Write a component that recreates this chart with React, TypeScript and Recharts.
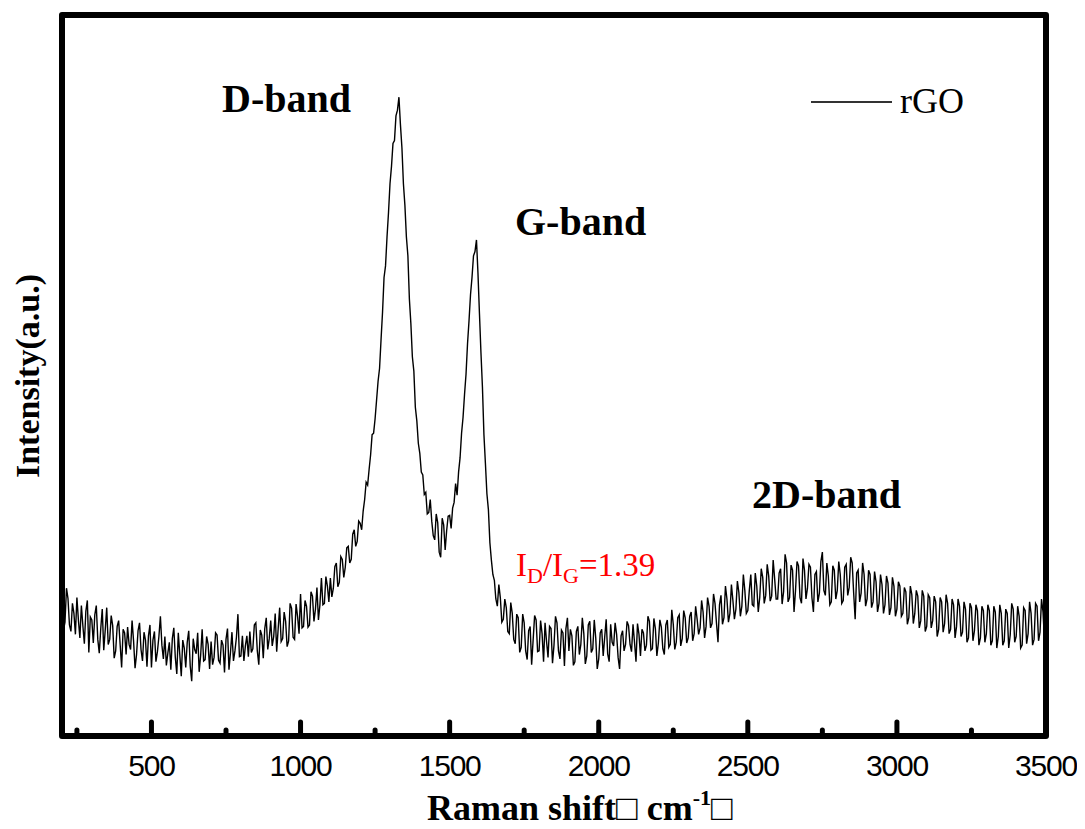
import React from 'react';
import { LineChart, Line, XAxis, YAxis, ReferenceArea } from 'recharts';

// Raman shift grid: starts at 200 cm-1, one reading every 5 cm-1
const SHIFT_START = 200;
const SHIFT_STEP = 5;

// rGO Raman intensity (a.u.), rows of 100 cm-1
const rgoIntensity: number[] = [
  /* 200 */ 1.86, 1.47, 1.58, 2.05, 1.91, 1.54, 1.45, 1.84, 1.70, 1.41, 1.92, 1.61, 1.36, 1.81, 1.53, 1.28, 1.73, 1.88, 1.16, 1.65,
  /* 300 */ 1.61, 1.29, 1.68, 1.81, 1.34, 1.15, 1.49, 1.76, 1.19, 1.47, 1.78, 1.27, 1.34, 1.67, 1.53, 1.08, 1.18, 1.52, 1.60, 1.27,
  /* 400 */ 0.95, 1.48, 1.43, 1.13, 1.51, 1.27, 1.20, 1.60, 1.32, 0.94, 1.13, 1.46, 1.57, 1.20, 1.04, 1.44, 1.33, 0.96, 1.39, 1.54,
  /* 500 */ 0.95, 1.33, 1.45, 1.03, 1.17, 1.38, 1.66, 1.26, 1.07, 1.38, 0.98, 1.15, 1.30, 0.92, 1.35, 1.50, 1.09, 0.86, 1.43, 1.13,
  /* 600 */ 0.83, 1.33, 1.22, 0.95, 1.30, 1.46, 0.97, 0.76, 1.35, 1.20, 1.14, 1.43, 0.89, 1.12, 1.48, 1.04, 1.06, 1.38, 1.27, 0.93,
  /* 700 */ 1.31, 0.99, 1.09, 1.43, 1.40, 1.05, 1.01, 1.33, 1.26, 0.88, 1.34, 1.49, 0.92, 1.16, 1.44, 1.04, 1.18, 1.37, 1.69, 1.10,
  /* 800 */ 1.11, 1.39, 1.04, 1.25, 1.39, 1.10, 1.45, 1.16, 1.21, 1.54, 1.57, 1.18, 0.99, 1.47, 1.40, 1.08, 1.49, 1.64, 1.20, 1.35,
  /* 900 */ 1.60, 1.25, 1.38, 1.70, 1.17, 1.49, 1.78, 1.31, 1.35, 1.72, 1.59, 1.24, 1.32, 1.84, 1.77, 1.37, 1.34, 1.83, 1.66, 1.42,
  /* 1000 */ 1.97, 1.50, 1.52, 1.88, 1.80, 1.51, 1.54, 2.00, 1.94, 1.59, 1.76, 2.06, 1.61, 1.82, 2.19, 1.82, 1.84, 2.21, 2.08, 1.86,
  /* 1100 */ 2.19, 1.93, 2.05, 2.35, 2.40, 2.07, 2.13, 2.49, 2.45, 2.20, 2.34, 2.61, 2.63, 2.40, 2.45, 2.80, 2.86, 2.63, 2.70, 2.98,
  /* 1200 */ 2.95, 2.86, 3.12, 3.28, 3.52, 3.48, 3.70, 3.90, 4.18, 4.20, 4.40, 4.66, 4.92, 5.10, 5.50, 5.88, 6.36, 6.52, 6.92, 7.26,
  /* 1300 */ 7.66, 7.90, 8.22, 8.26, 8.60, 8.68, 8.86, 8.48, 8.16, 7.66, 7.36, 6.92, 6.66, 6.06, 5.72, 5.26, 5.06, 4.56, 4.37, 4.06,
  /* 1400 */ 3.92, 3.66, 3.62, 3.35, 3.38, 3.08, 3.10, 3.28, 2.98, 2.78, 2.72, 3.08, 2.96, 2.55, 2.48, 3.02, 2.93, 2.58, 2.85, 3.05,
  /* 1500 */ 3.06, 2.88, 3.16, 3.24, 3.50, 3.34, 3.66, 3.86, 4.20, 4.42, 4.74, 5.02, 5.44, 5.76, 6.12, 6.36, 6.66, 6.72, 6.88, 6.42,
  /* 1600 */ 5.86, 5.32, 4.84, 4.18, 3.78, 3.36, 3.14, 2.68, 2.44, 2.24, 2.16, 1.90, 1.80, 2.10, 1.92, 1.58, 1.62, 1.90, 1.78, 1.45,
  /* 1700 */ 1.42, 1.85, 1.70, 1.34, 1.28, 1.69, 1.64, 1.16, 1.23, 1.69, 1.57, 1.18, 1.06, 1.46, 1.52, 0.99, 1.33, 1.67, 1.61, 1.17,
  /* 1800 */ 1.18, 1.60, 1.42, 1.03, 1.57, 1.31, 1.09, 1.52, 1.49, 1.01, 1.26, 1.66, 1.57, 1.18, 1.07, 1.47, 1.43, 0.97, 1.49, 1.64,
  /* 1900 */ 1.18, 1.48, 1.39, 0.98, 1.03, 1.45, 1.52, 1.13, 1.27, 1.64, 1.42, 1.00, 1.11, 1.54, 1.59, 1.16, 1.21, 1.61, 1.36, 0.93,
  /* 2000 */ 1.07, 1.43, 1.48, 1.11, 1.37, 1.62, 1.14, 1.03, 1.55, 1.30, 1.25, 1.57, 1.41, 1.09, 0.93, 1.39, 1.46, 1.18, 1.27, 1.59,
  /* 2100 */ 1.53, 1.27, 1.17, 1.55, 1.30, 1.03, 1.56, 1.41, 1.11, 1.48, 1.43, 1.18, 1.26, 1.66, 1.59, 1.19, 1.21, 1.63, 1.49, 1.11,
  /* 2200 */ 1.29, 1.61, 1.51, 1.21, 1.13, 1.54, 1.61, 1.23, 1.27, 1.75, 1.55, 1.20, 1.30, 1.64, 1.68, 1.25, 1.35, 1.74, 1.64, 1.29,
  /* 2300 */ 1.36, 1.66, 1.72, 1.32, 1.42, 1.80, 1.62, 1.41, 1.50, 1.88, 1.72, 1.36, 1.52, 1.92, 1.80, 1.50, 1.56, 1.97, 1.84, 1.56,
  /* 2400 */ 1.30, 1.82, 1.95, 1.55, 1.64, 2.08, 1.90, 1.58, 1.70, 2.10, 1.88, 1.62, 1.76, 2.15, 1.99, 1.66, 1.80, 2.24, 2.02, 1.70,
  /* 2500 */ 1.74, 2.02, 2.24, 1.82, 1.80, 2.26, 2.08, 1.72, 1.92, 2.32, 2.20, 1.84, 1.95, 2.38, 2.22, 1.87, 1.94, 2.44, 2.18, 1.90,
  /* 2600 */ 1.90, 2.26, 2.32, 1.83, 2.00, 2.52, 2.40, 1.86, 1.92, 2.37, 2.30, 1.72, 2.02, 2.42, 2.36, 1.92, 1.84, 2.46, 2.30, 1.90,
  /* 2700 */ 2.05, 2.38, 2.34, 1.92, 1.72, 2.24, 2.28, 1.86, 1.98, 2.42, 2.55, 2.02, 1.95, 2.40, 2.22, 1.82, 1.86, 2.36, 2.30, 1.90,
  /* 2800 */ 2.02, 2.42, 2.24, 1.84, 1.88, 2.34, 2.38, 1.95, 2.06, 2.48, 2.40, 1.98, 1.62, 2.26, 2.30, 1.86, 1.98, 2.40, 2.24, 1.80,
  /* 2900 */ 1.90, 2.30, 2.24, 1.78, 1.86, 2.28, 2.14, 1.72, 1.84, 2.24, 2.10, 1.70, 1.82, 2.22, 2.12, 1.68, 1.78, 2.20, 2.08, 1.66,
  /* 3000 */ 1.76, 2.14, 2.08, 1.66, 1.70, 2.06, 2.00, 1.55, 1.64, 2.08, 1.96, 1.56, 1.70, 2.02, 1.94, 1.50, 1.60, 2.02, 1.94, 1.45,
  /* 3100 */ 1.52, 1.96, 1.92, 1.50, 1.60, 1.94, 1.86, 1.38, 1.48, 1.92, 1.86, 1.44, 1.56, 1.96, 1.84, 1.42, 1.48, 1.90, 1.82, 1.36,
  /* 3200 */ 1.52, 1.90, 1.80, 1.38, 1.44, 1.86, 1.76, 1.30, 1.36, 1.84, 1.78, 1.32, 1.46, 1.82, 1.74, 1.26, 1.36, 1.80, 1.74, 1.30,
  /* 3300 */ 1.42, 1.82, 1.74, 1.26, 1.32, 1.80, 1.72, 1.22, 1.38, 1.82, 1.70, 1.26, 1.32, 1.76, 1.70, 1.22, 1.40, 1.84, 1.76, 1.30,
  /* 3400 */ 1.38, 1.80, 1.66, 1.22, 1.26, 1.78, 1.74, 1.28, 1.42, 1.86, 1.70, 1.26, 1.34, 1.84, 1.80, 1.32, 1.44, 1.90, 1.72, 1.32,
  /* 3500 */ 1.50,
];

const xTicks = [250, 500, 750, 1000, 1250, 1500, 1750, 2000, 2250, 2500, 2750, 3000, 3250, 3500];
const xLabelTicks = [500, 1000, 1500, 2000, 2500, 3000, 3500];
const yTicks = [1, 2, 3, 4, 5, 6, 7, 8, 9];
const X_DOMAIN: [number, number] = [200, 3500];
const Y_DOMAIN: [number, number] = [0, 10];

const data = rgoIntensity.map((v, i) => ({ shift: SHIFT_START + i * SHIFT_STEP, rGO: v }));

const SERIF = "'Times New Roman', 'Liberation Serif', 'DejaVu Serif', serif";
const SANS = "Arial, 'Liberation Sans', sans-serif";

const BottomTick = (props: any) => {
  const { x, y, payload } = props;
  const v = payload.value as number;
  const major = xLabelTicks.includes(v);
  return (
    <g>
      {v < 3500 && (
        <line x1={x} x2={x} y1={y} y2={y - (major ? 14 : 6)} stroke="#000" strokeWidth={5} strokeLinecap="round" />
      )}
      {major && (
        <text x={x} y={y + 40} textAnchor="middle" fontFamily={SANS} fontSize={30} fill="#000" letterSpacing={-1.2}>
          {v}
        </text>
      )}
    </g>
  );
};

const TopTick = (props: any) => {
  const { x, y, payload } = props;
  if (payload.value >= 3500) return <g />;
  return <line x1={x} x2={x} y1={y} y2={y + 3} stroke="#000" strokeWidth={1.5} />;
};

const LeftTick = (props: any) => {
  const { x, y } = props;
  return <line x1={x} x2={x + 4} y1={y} y2={y} stroke="#000" strokeWidth={2} />;
};

const RightTick = (props: any) => {
  const { x, y } = props;
  return <line x1={x} x2={x - 4} y1={y} y2={y} stroke="#000" strokeWidth={2} />;
};

export default function App() {
  return (
    <LineChart
      width={1077}
      height={821}
      data={data}
      margin={{ top: 7, right: 39, left: 54, bottom: 33 }}
    >
      <XAxis
        dataKey="shift"
        type="number"
        domain={X_DOMAIN}
        ticks={xTicks}
        interval={0}
        axisLine={false}
        tickLine={false}
        tickSize={0}
        tickMargin={0}
        height={60}
        tick={<BottomTick />}
        allowDataOverflow
      />
      <XAxis
        xAxisId="top"
        orientation="top"
        dataKey="shift"
        type="number"
        domain={X_DOMAIN}
        ticks={xTicks}
        interval={0}
        axisLine={false}
        tickLine={false}
        tickSize={0}
        tickMargin={0}
        height={0}
        tick={<TopTick />}
        allowDataOverflow
      />
      <YAxis
        type="number"
        domain={Y_DOMAIN}
        ticks={yTicks}
        interval={0}
        axisLine={false}
        tickLine={false}
        tickSize={0}
        tickMargin={0}
        width={0}
        tick={<LeftTick />}
        allowDataOverflow
      />
      <YAxis
        yAxisId="right"
        orientation="right"
        type="number"
        domain={Y_DOMAIN}
        ticks={yTicks}
        interval={0}
        axisLine={false}
        tickLine={false}
        tickSize={0}
        tickMargin={0}
        width={0}
        tick={<RightTick />}
        allowDataOverflow
      />
      <ReferenceArea
        x1={X_DOMAIN[0]}
        x2={X_DOMAIN[1]}
        y1={Y_DOMAIN[0]}
        y2={Y_DOMAIN[1]}
        fill="none"
        fillOpacity={0}
        stroke="#000"
        strokeWidth={6}
        strokeLinejoin="round"
      />
      <Line
        type="linear"
        dataKey="rGO"
        stroke="#000"
        strokeWidth={1.4}
        dot={false}
        activeDot={false}
        isAnimationActive={false}
      />
      <g>
        <text x={214} y={104} fontFamily={SERIF} fontWeight="bold" fontSize={40} fill="#000">D-band</text>
        <text x={507} y={227} fontFamily={SERIF} fontWeight="bold" fontSize={40} fill="#000">G-band</text>
        <text x={744} y={500} fontFamily={SERIF} fontWeight="bold" fontSize={40} fill="#000">2D-band</text>
        <text x={508} y={568} fontFamily={SERIF} fontSize={33} fill="#ff0000">
          I<tspan fontSize={22} dy={7}>D</tspan>
          <tspan dy={-7}>/I</tspan>
          <tspan fontSize={22} dy={7}>G</tspan>
          <tspan dy={-7}>=1.39</tspan>
        </text>
        <line x1={803} x2={884} y1={94} y2={94} stroke="#333" strokeWidth={2} />
        <text x={892} y={105} fontFamily={SERIF} fontSize={36} fill="#000">rGO</text>
        <text
          x={31}
          y={368}
          transform="rotate(-90 31 368)"
          textAnchor="middle"
          fontFamily={SERIF}
          fontWeight="bold"
          fontSize={34}
          fill="#000"
        >
          Intensity(a.u.)
        </text>
        <text x={419} y={812} fontFamily={SERIF} fontWeight="bold" fontSize={36} fill="#000">
          Raman shift<tspan fontWeight="normal" fontSize={36}>□</tspan> cm
          <tspan fontSize={22} dy={-15}>-1</tspan>
          <tspan fontWeight="normal" fontSize={36} dy={15}>□</tspan>
        </text>
      </g>
    </LineChart>
  );
}
